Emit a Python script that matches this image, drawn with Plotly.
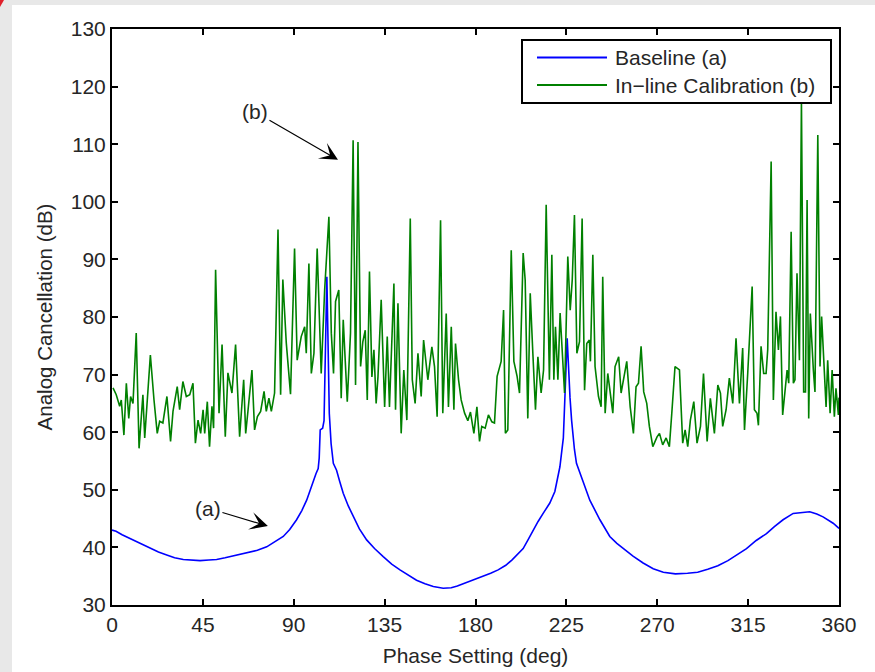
import plotly.graph_objects as go

# ---------------- data ----------------
green_phase = [0.5, 2.1, 3.8, 4.6, 5.9, 7.1, 8.3, 9.2, 10.4, 12.0, 13.4, 15.3, 16.2, 19.0, 20.8,
               22.4, 23.6, 25.2, 27.2, 29.0, 30.2, 32.3, 33.5, 35.1, 36.8, 38.5, 40.1, 41.3, 42.6,
               43.9, 45.1, 45.9, 47.2, 48.3, 49.5, 50.3, 51.3, 53.0, 54.5, 56.1, 57.4, 59.4, 61.2,
               63.2, 65.2, 66.2, 67.3, 69.3, 70.6, 72.0, 73.6, 75.3, 76.4, 77.7, 78.9, 80.5, 82.2,
               83.5, 84.6, 86.3, 88.4, 90.4, 91.7, 93.7, 95.4, 96.2, 97.5, 98.7, 100.0, 101.6, 103.6,
               105.3, 107.4, 108.6, 109.7, 110.7, 112.3, 113.5, 114.5, 116.5, 118.1, 119.4, 120.6,
               121.8, 123.1, 124.2, 125.4, 126.4, 127.5, 128.7, 129.7, 130.8, 131.7, 133.3, 135.0,
               136.3, 137.4, 139.6, 140.4, 141.6, 143.2, 144.5, 146.0, 147.7, 148.7, 150.1, 151.5,
               153.1, 154.3, 156.4, 158.4, 159.7, 161.0, 162.7, 163.8, 165.5, 166.6, 168.0, 169.3,
               170.1, 171.6, 172.9, 174.6, 176.2, 177.5, 179.2, 180.7, 182.0, 183.1, 184.8, 186.4,
               188.1, 189.4, 190.7, 192.7, 193.9, 194.8, 196.0, 197.7, 199.0, 200.6, 201.8, 203.6,
               204.6, 205.9, 207.1, 208.4, 209.7, 210.9, 212.5, 213.7, 215.0, 216.6, 217.8, 218.8,
               219.6, 220.8, 221.9, 224.1, 225.7, 226.9, 227.9, 229.0, 230.2, 231.5, 232.8, 234.0,
               235.1, 236.4, 236.9, 238.1, 239.2, 240.9, 242.2, 243.0, 244.2, 245.5, 246.7, 248.0,
               249.1, 250.9, 252.1, 253.4, 254.9, 256.6, 258.2, 259.5, 260.7, 262.0, 263.3, 264.8,
               266.1, 267.8, 269.9, 271.1, 272.7, 274.4, 276.0, 277.2, 278.8, 281.0, 282.6, 283.8,
               285.1, 286.4, 288.1, 289.7, 291.4, 292.9, 294.7, 296.3, 298.3, 300.0, 301.3, 302.4,
               304.1, 305.7, 307.4, 309.0, 310.7, 312.3, 313.2, 314.8, 317.0, 318.1, 319.4, 320.1,
               321.4, 322.7, 323.9, 324.7, 326.4, 327.5, 328.8, 330.0, 331.0, 332.1, 334.3, 335.1,
               336.3, 337.4, 338.2, 339.2, 340.4, 341.4, 342.5, 343.4, 344.2, 345.0, 345.8, 347.3,
               348.1, 349.5, 350.6, 351.4, 352.8, 353.6, 354.4, 355.6, 356.6, 357.7, 358.5, 359.7,
               360.0]
green_db = [67.7, 66.5, 64.5, 65.6, 59.5, 68.5, 62.4, 66.2, 65.0, 77.2, 57.2, 66.5, 59.0, 73.4, 65.6,
            59.8, 61.9, 61.6, 66.2, 58.4, 63.6, 67.9, 63.9, 68.8, 66.2, 66.5, 68.5, 58.1, 62.1,
            59.8, 63.9, 59.8, 65.3, 57.5, 64.5, 60.7, 88.2, 63.3, 75.2, 59.2, 70.3, 66.8, 75.2,
            59.2, 69.1, 59.8, 63.6, 70.8, 60.4, 62.7, 63.6, 67.1, 63.6, 65.9, 63.6, 66.8, 95.2,
            66.5, 86.5, 75.5, 66.6, 91.9, 72.5, 76.6, 78.3, 73.7, 89.3, 70.2, 73.7, 91.9, 70.2,
            84.7, 97.4, 77.2, 70.2, 82.7, 84.7, 65.9, 79.5, 65.3, 77.2, 110.7, 68.2,
            110.4, 71.4, 75.7, 77.7, 65.6, 87.9, 69.6, 74.3, 65.0, 69.6, 83.0, 64.4,
            76.6, 64.4, 85.8, 63.9, 82.4, 59.8, 70.8, 62.1, 97.1, 69.1, 65.0, 73.7,
            66.2, 76.0, 69.1, 74.8, 71.4, 62.7, 96.8, 63.3, 80.6, 64.4, 78.3, 63.9,
            75.4, 69.1, 65.6, 63.3, 62.0, 63.5, 59.8, 64.4, 58.4, 61.0, 60.7, 63.0,
            61.8, 61.6, 69.7, 72.3, 81.2, 59.8, 60.4, 91.6, 72.3, 69.7, 66.8, 91.1,
            86.4, 62.4, 84.1, 73.7, 63.9, 73.1, 66.8, 70.8, 99.5, 69.1, 90.8, 69.1,
            78.3, 69.1, 80.7, 66.8, 90.5, 81.2, 86.4, 97.7, 73.7, 75.7, 97.1, 67.3,
            75.4, 76.0, 72.3, 90.8, 71.4, 66.2, 64.4, 87.0, 63.3, 70.2, 66.8, 63.3,
            71.4, 73.1, 66.8, 69.1, 72.3, 64.4, 59.8, 67.9, 68.5, 74.9, 67.0, 65.0,
            61.0, 57.5, 59.2, 59.8, 57.8, 59.0, 57.5, 63.3, 71.4, 70.8, 58.1, 60.4,
            57.5, 62.1, 65.3, 58.1, 61.0, 70.2, 58.4, 65.9, 59.8, 68.2, 66.8, 61.0,
            63.9, 69.4, 65.0, 76.3, 65.0, 74.6, 60.4, 70.2, 85.3, 63.9, 63.3, 61.2,
            74.9, 70.2, 70.2, 74.3, 107.0, 65.6, 80.9, 74.3, 80.1, 63.0, 70.8, 68.5,
            94.8, 68.5, 69.1, 87.6, 72.5, 117.5, 67.0, 67.0, 100.3, 62.4, 80.6, 70.8,
            67.0, 111.6, 71.4, 80.1, 69.1, 64.4, 72.5, 63.3, 70.8, 62.7, 67.6, 63.0,
            66.0]

blue_phase = [0, 2, 5, 8, 10.6, 14, 18.8, 23, 27.1, 31, 35.3, 39, 43.6, 48, 51.8, 56, 60.1, 64,
              68.3, 72, 76.6, 80, 84.8, 88, 91.4, 94, 96.4, 98, 99.7, 101, 102.1, 102.6, 103.1,
              104.3, 105.0, 106.4, 107.6, 108.5, 109.6, 111.2, 112.8, 114.5, 117, 119.5, 122.5,
              126.1, 130, 134.3, 138.5, 142.6, 146.5, 150.8, 155, 159.1, 164.0, 168, 171, 175.6,
              180, 183.8, 187.5, 191.2, 195, 198, 201, 203.6, 206, 208.6, 211, 213.5, 216.8,
              219.3, 221.8, 223.5, 224.3, 225.4, 226.8, 227.6, 229, 230.0, 233.3, 236.6, 241.6,
              246.5, 250, 253.1, 258, 263, 268, 273, 279, 285, 290, 295, 300, 305, 310, 314.2,
              319, 324.1, 328, 332.3, 337.3, 341, 345.5, 349, 352.1, 357.1, 360]
blue_db = [43.0, 42.8, 42.2, 41.7, 41.3, 40.6, 39.8, 39.2, 38.7, 38.2, 37.9, 37.8, 37.7, 37.8, 37.9,
           38.2, 38.5, 38.8, 39.1, 39.5, 40.1, 40.8, 41.9, 43.1, 44.8, 46.4, 48.2, 49.8, 51.7,
           52.8, 53.7, 55.5, 60.4, 60.7, 62.0, 87.0, 63.3, 58.0, 54.6, 53.4, 51.4, 49.4, 47.2,
           45.3, 43.2, 41.3, 39.8, 38.4, 37.1, 36.1, 35.2, 34.3, 33.7, 33.2, 32.9, 33.0, 33.3,
           33.9, 34.4, 35.0, 35.5, 36.1, 36.9, 37.8, 38.8, 39.8, 41.3, 43.0, 44.5, 45.9, 47.7,
           49.7, 54.0, 59.0, 65.6, 76.3, 66.0, 62.0, 57.0, 54.6, 51.4, 48.2, 44.8, 41.9, 40.7,
           39.8, 38.5, 37.3, 36.3, 35.7, 35.4, 35.5, 35.7, 36.2, 36.8, 37.7, 38.8, 39.8, 41.2,
           42.4, 43.6, 44.8, 45.9, 46.0, 46.2, 45.8, 45.3, 44.2, 43.3]

series_names = ["Baseline (a)", "In\u2212line Calibration (b)"]
series_colors = ["#0000ff", "#008000"]
x_ticks = [0, 45, 90, 135, 180, 225, 270, 315, 360]
y_ticks = [30, 40, 50, 60, 70, 80, 90, 100, 110, 120, 130]
x_title = "Phase Setting (deg)"
y_title = "Analog Cancellation (dB)"

# ---------------- layout geometry (pixels) ----------------
W, H = 875, 672
L, R, T, B = 112, 36, 29, 67
PW, PH = W - L - R, H - T - B


def px(xp):
    return (xp - L) / PW


def py(yp):
    return (H - B - yp) / PH


FONT = "Liberation Sans, Arial, sans-serif"
TXT = "#262626"
FS = 21

fig = go.Figure()
fig.add_trace(go.Scatter(x=blue_phase, y=blue_db, mode="lines", name=series_names[0],
                         line=dict(color=series_colors[0], width=1.6), showlegend=False))
fig.add_trace(go.Scatter(x=green_phase, y=green_db, mode="lines", name=series_names[1],
                         line=dict(color=series_colors[1], width=1.6), showlegend=False))

axis_common = dict(showline=True, linecolor="black", linewidth=2, mirror="allticks",
                   ticks="inside", ticklen=6, tickwidth=1.5, tickcolor="black",
                   showgrid=False, zeroline=False,
                   tickfont=dict(family=FONT, size=FS, color=TXT))

fig.update_xaxes(range=[0, 360], tickvals=x_ticks, **axis_common,
                 title=dict(text=x_title, font=dict(family=FONT, size=FS, color=TXT), standoff=13))
fig.update_yaxes(range=[30, 130], tickvals=y_ticks, **axis_common,
                 title=dict(text=y_title, font=dict(family=FONT, size=20.5, color=TXT), standoff=13))

shapes = [
    # grey frame strips around the white panel
    dict(type="rect", xref="paper", yref="paper", x0=px(0), x1=px(12), y0=py(H), y1=py(0),
         fillcolor="#e8e8e8", line=dict(width=0), layer="below"),
    dict(type="rect", xref="paper", yref="paper", x0=px(0), x1=px(W), y0=py(5), y1=py(0),
         fillcolor="#e8e8e8", line=dict(width=0), layer="below"),
    dict(type="path", xref="paper", yref="paper",
         path=f"M {px(0)},{py(0)} L {px(4)},{py(0)} L {px(0)},{py(7)} Z",
         fillcolor="#e0202a", line=dict(width=0), layer="below"),
    # legend box
    dict(type="rect", xref="paper", yref="paper", x0=px(522), x1=px(831), y0=py(103), y1=py(40),
         fillcolor="white", line=dict(color="black", width=2), layer="above"),
]

annotations = [
    dict(x=111.9, y=107.3, ax=70.8, ay=115.6, xref="x", yref="y", axref="x", ayref="y",
         text="(b)", showarrow=True, arrowhead=3, arrowsize=2.5, arrowwidth=1.2, arrowcolor="black",
         font=dict(family=FONT, size=FS, color=TXT)),
    dict(x=77.2, y=43.7, ax=47.5, ay=46.8, xref="x", yref="y", axref="x", ayref="y",
         text="(a)", showarrow=True, arrowhead=3, arrowsize=2.5, arrowwidth=1.2, arrowcolor="black",
         font=dict(family=FONT, size=FS, color=TXT)),
]

# custom legend entries (long line samples, as in the original)
legend_rows = [57.5, 85]
for name, color, yrow in zip(series_names, series_colors, legend_rows):
    shapes.append(dict(type="line", xref="paper", yref="paper", x0=px(537), x1=px(607),
                       y0=py(yrow), y1=py(yrow), line=dict(color=color, width=1.8), layer="above"))
    annotations.append(dict(x=px(613), y=py(yrow), xref="paper", yref="paper", text=name,
                            showarrow=False, xanchor="left", yanchor="middle",
                            font=dict(family=FONT, size=FS, color=TXT)))

fig.update_layout(
    width=W, height=H,
    margin=dict(l=L, r=R, t=T, b=B, autoexpand=False),
    paper_bgcolor="white", plot_bgcolor="white",
    font=dict(family=FONT, size=FS, color=TXT),
    shapes=shapes, annotations=annotations,
    showlegend=False,
)

fig.write_html("out.html")
